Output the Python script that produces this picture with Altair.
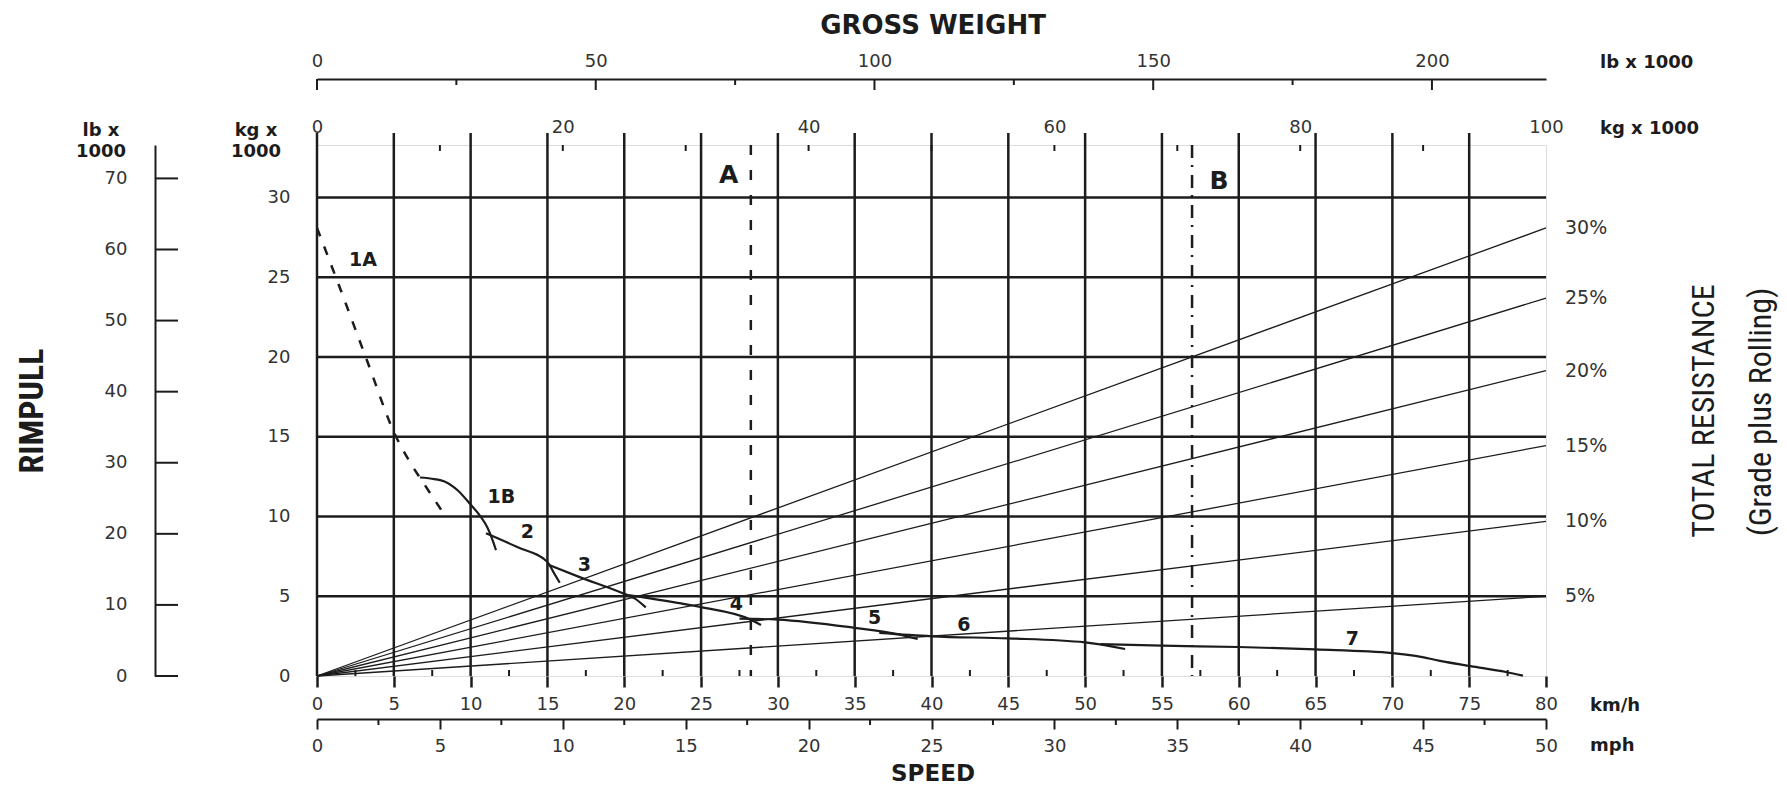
import altair as alt
import pandas as pd

W, H = 1229, 531
INK = "#1c1c1c"
LBL = "#333333"
FONT = "DejaVu Sans"
NARROW = "Liberation Sans Narrow, Roboto Condensed, Liberation Sans"

# ---------------- axis values ----------------
kmh_grid = [0, 5, 10, 15, 20, 25, 30, 35, 40, 45, 50, 55, 60, 65, 70, 75]
kmh_labels = [0, 5, 10, 15, 20, 25, 30, 35, 40, 45, 50, 55, 60, 65, 70, 75, 80]
kmh_minor = [2.5, 7.5, 12.5, 17.5, 22.5, 27.5, 32.5, 37.5, 42.5, 47.5, 52.5, 57.5, 62.5, 67.5, 72.5, 77.5]
mph_major = [0, 5, 10, 15, 20, 25, 30, 35, 40, 45, 50]
mph_minor = [2.5, 7.5, 12.5, 17.5, 22.5, 27.5, 32.5, 37.5, 42.5, 47.5]
kg_top_labels = [0, 20, 40, 60, 80, 100]
kg_top_ticks = [10, 20, 30, 40, 50, 60, 70, 80, 90]
lb_top_major = [0, 50, 100, 150, 200]
lb_top_minor = [25, 75, 125, 175]
rimpull_kg_labels = [0, 5, 10, 15, 20, 25, 30]
rimpull_lb_labels = [0, 10, 20, 30, 40, 50, 60, 70]
hgrid = [5, 10, 15, 20, 25, 30]

# ---------------- total resistance lines ----------------
pct_labels = ["30%", "25%", "20%", "15%", "10%", "5%"]
pct_end = [28.1, 23.7, 19.15, 14.45, 9.7, 5.0]
gw_max = 100

# ---------------- A / B gross weights ----------------
ab_labels = ["A", "B"]
ab_gw = [35.3, 71.2]
ab_label_gw = [33.5, 73.4]
ab_label_rp = [31.45, 31.07]

# ---------------- rimpull curves (km/h, kg x 1000) ----------------
g1A_kmh = [0.0, 1.35, 3.25, 5.1, 6.0, 7.0, 8.1]
g1A_kg = [28.1, 24.7, 19.8, 15.1, 13.5, 12.0, 10.4]
g1B_kmh = [6.7, 7.65, 8.3, 9.15, 10.0, 10.65, 11.1, 11.3, 11.65]
g1B_kg = [12.45, 12.35, 12.2, 11.65, 10.75, 10.0, 9.3, 8.85, 7.9]
g2_kmh = [11.0, 13.0, 15.0, 15.4, 15.8]
g2_kg = [8.95, 8.1, 7.15, 6.5, 5.85]
g3_kmh = [15.0, 17.1, 20.0, 20.7, 21.4]
g3_kg = [7.0, 6.2, 5.15, 4.85, 4.3]
g4_kmh = [20.0, 23.7, 25.0, 28.2, 28.9]
g4_kg = [5.1, 4.55, 4.32, 3.55, 3.2]
g5_kmh = [27.5, 30.0, 35.0, 37.7, 39.1]
g5_kg = [3.6, 3.54, 3.02, 2.64, 2.32]
g6_kmh = [36.6, 40.0, 45.0, 50.0, 52.6]
g6_kg = [2.7, 2.49, 2.36, 2.11, 1.69]
g7_kmh = [51.0, 55.0, 60.0, 65.0, 70.0, 71.6, 73.1, 75.1, 77.4, 78.5]
g7_kg = [2.0, 1.9, 1.82, 1.67, 1.44, 1.25, 0.95, 0.62, 0.25, 0.02]

curve_labels = ["1A", "1B", "2", "3", "4", "5", "6", "7"]
curve_label_kmh = [3.0, 12.0, 13.7, 17.4, 27.3, 36.3, 42.1, 67.4]
curve_label_kg = [26.1, 11.25, 9.0, 6.95, 4.5, 3.64, 3.2, 2.35]

# ---------------- build tables ----------------
solid = []
for name, xs, ys in [("1B", g1B_kmh, g1B_kg), ("2", g2_kmh, g2_kg), ("3", g3_kmh, g3_kg),
                     ("4", g4_kmh, g4_kg), ("5", g5_kmh, g5_kg), ("6", g6_kmh, g6_kg),
                     ("7", g7_kmh, g7_kg)]:
    for i, (a, b) in enumerate(zip(xs, ys)):
        solid.append({"gear": name, "i": i, "kmh": a, "kg": b})
df_solid = pd.DataFrame(solid)
df_1A = pd.DataFrame({"i": range(len(g1A_kmh)), "kmh": g1A_kmh, "kg": g1A_kg})

res_rows = []
for p, e in zip(pct_labels, pct_end):
    res_rows.append({"pct": p, "gw": 0, "rp": 0})
    res_rows.append({"pct": p, "gw": gw_max, "rp": e})
df_res = pd.DataFrame(res_rows)
df_pct = pd.DataFrame({"pct": pct_labels, "gw": [gw_max] * len(pct_labels), "rp": pct_end})


def sc(domain):
    return alt.Scale(domain=domain, nice=False, zero=False)


XK = sc([0, 80])
XG = sc([0, 100])
XL = sc([0, 220.46])
XM = sc([0, 50])
YK = sc([0, 33.3])
YL = sc([0, 74.7])

lab = dict(labelFont=FONT, labelFontSize=18, labelColor=LBL, labelFlush=False,
           labelOverlap=False, grid=False, title=None, format="d")

# vertical grid (extends above the frame)
vgrid = alt.Chart(pd.DataFrame({"kmh": kmh_grid})).mark_rule(color=INK, strokeWidth=2.5).encode(
    x=alt.X("kmh:Q", scale=XK, axis=alt.Axis(orient="bottom", values=kmh_labels, tickSize=11,
                                             tickWidth=2.5, tickColor=INK, domain=False,
                                             labelPadding=8, **lab)),
    y=alt.value(-12), y2=alt.value(H))

kmh_minor_l = alt.Chart(pd.DataFrame({"kmh": kmh_minor})).mark_rule(color=INK, strokeWidth=2).encode(
    x=alt.X("kmh:Q", scale=XK, axis=None), y=alt.value(H - 6), y2=alt.value(H))

# horizontal grid + left kg axis
hg = alt.Chart(pd.DataFrame({"kg": hgrid})).mark_rule(color=INK, strokeWidth=2.5).encode(
    y=alt.Y("kg:Q", scale=YK, axis=alt.Axis(orient="left", values=rimpull_kg_labels, ticks=False,
                                            tickSize=0, domain=False, labelPadding=27, **lab)),
    x=alt.value(0), x2=alt.value(W))

# total resistance lines + top kg axis
res = alt.Chart(df_res).mark_line(color=INK, strokeWidth=1.3).encode(
    x=alt.X("gw:Q", scale=XG, axis=alt.Axis(orient="top", values=kg_top_labels, ticks=False,
                                            tickSize=0, domain=False, labelPadding=9, **lab)),
    y=alt.Y("rp:Q", scale=YK, axis=None),
    detail="pct:N", order="gw:Q")

pct_text = alt.Chart(df_pct).mark_text(align="left", baseline="middle", dx=19, font=FONT,
                                       fontSize=19, color=LBL).encode(
    x=alt.X("gw:Q", scale=XG, axis=None), y=alt.Y("rp:Q", scale=YK, axis=None), text="pct:N")

kg_ticks = alt.Chart(pd.DataFrame({"gw": kg_top_ticks})).mark_rule(color=INK, strokeWidth=2).encode(
    x=alt.X("gw:Q", scale=XG, axis=None), y=alt.value(0), y2=alt.value(6))

# top lb axis
lb_major = alt.Chart(pd.DataFrame({"lb": lb_top_major})).mark_rule(color=INK, strokeWidth=2).encode(
    x=alt.X("lb:Q", scale=XL, axis=alt.Axis(orient="top", offset=66, values=lb_top_major,
                                            ticks=False, tickSize=0, domain=True, domainColor=INK,
                                            domainWidth=2, labelPadding=9, **lab)),
    y=alt.value(-66), y2=alt.value(-55))
lb_minor = alt.Chart(pd.DataFrame({"lb": lb_top_minor})).mark_rule(color=INK, strokeWidth=2).encode(
    x=alt.X("lb:Q", scale=XL, axis=None), y=alt.value(-66), y2=alt.value(-60))

# bottom mph axis
mph = alt.Chart(pd.DataFrame({"mph": mph_minor})).mark_rule(color=INK, strokeWidth=2).encode(
    x=alt.X("mph:Q", scale=XM, axis=alt.Axis(orient="bottom", offset=43, values=mph_major,
                                             tickSize=10, tickWidth=2, tickColor=INK, domain=True,
                                             domainColor=INK, domainWidth=2, labelPadding=8, **lab)),
    y=alt.value(H + 43), y2=alt.value(H + 49))

# left lb rimpull axis
lbl = alt.Chart(pd.DataFrame({"lb": rimpull_lb_labels})).mark_rule(color=INK, strokeWidth=2).encode(
    y=alt.Y("lb:Q", scale=YL, axis=alt.Axis(orient="left", offset=162, values=rimpull_lb_labels,
                                            ticks=False, tickSize=0, domain=True, domainColor=INK,
                                            domainWidth=2, labelPadding=28, **lab)),
    x=alt.value(-162), x2=alt.value(-139))

# A and B gross weight lines
lineA = alt.Chart(pd.DataFrame({"gw": [ab_gw[0]]})).mark_rule(color=INK, strokeWidth=2.5,
                                                              strokeDash=[10, 15]).encode(
    x=alt.X("gw:Q", scale=XG, axis=None), y=alt.value(0), y2=alt.value(H))
lineB = alt.Chart(pd.DataFrame({"gw": [ab_gw[1]]})).mark_rule(color=INK, strokeWidth=2.5,
                                                              strokeDash=[13, 7, 2, 8]).encode(
    x=alt.X("gw:Q", scale=XG, axis=None), y=alt.value(0), y2=alt.value(H))
ab_text = alt.Chart(pd.DataFrame({"t": ab_labels, "gw": ab_label_gw, "rp": ab_label_rp})).mark_text(
    font=FONT, fontWeight="bold", fontSize=25, color=INK, baseline="middle").encode(
    x=alt.X("gw:Q", scale=XG, axis=None), y=alt.Y("rp:Q", scale=YK, axis=None), text="t:N")

# rimpull curves
curves = alt.Chart(df_solid).mark_line(color=INK, strokeWidth=2.2, interpolate="monotone").encode(
    x=alt.X("kmh:Q", scale=XK, axis=None), y=alt.Y("kg:Q", scale=YK, axis=None),
    detail="gear:N", order="i:Q")
curve1A = alt.Chart(df_1A).mark_line(color=INK, strokeWidth=2.5, strokeDash=[9, 11],
                                     interpolate="monotone").encode(
    x=alt.X("kmh:Q", scale=XK, axis=None), y=alt.Y("kg:Q", scale=YK, axis=None), order="i:Q")
curve_text = alt.Chart(pd.DataFrame({"t": curve_labels, "kmh": curve_label_kmh,
                                     "kg": curve_label_kg})).mark_text(
    font=FONT, fontWeight="bold", fontSize=19, color=INK, baseline="middle").encode(
    x=alt.X("kmh:Q", scale=XK, axis=None), y=alt.Y("kg:Q", scale=YK, axis=None), text="t:N")


def note(text, x, y, size, weight="normal", align="center", angle=0, font=FONT, baseline="middle",
         line_height=None):
    kw = dict(font=font, fontSize=size, fontWeight=weight, align=align, baseline=baseline,
              color=INK, angle=angle)
    if line_height:
        kw.update(lineBreak="\n", lineHeight=line_height)
    return alt.Chart(pd.DataFrame({"t": [text]})).mark_text(**kw).encode(
        x=alt.value(x), y=alt.value(y), text="t:N")


notes = [
    note("GROSS WEIGHT", 616, -119, 26, "bold"),
    note("lb x 1000", 1283, -82, 18, "bold", align="left"),
    note("kg x 1000", 1283, -16, 18, "bold", align="left"),
    note("lb x\n1000", -216, -23, 18, "bold", baseline="top", line_height=21),
    note("kg x\n1000", -61, -23, 18, "bold", baseline="top", line_height=21),
    note("km/h", 1273, 561, 18, "bold", align="left"),
    note("mph", 1273, 601, 18, "bold", align="left"),
    note("SPEED", 616, 629, 23, "bold"),
    note("RIMPULL", -284, 266, 34, "bold", angle=270, font=NARROW),
    note("TOTAL RESISTANCE", 1387, 266, 32, "normal", angle=270, font=NARROW),
    note("(Grade plus Rolling)", 1444, 267, 32, "normal", angle=270, font=NARROW),
]

chart = alt.layer(
    vgrid, kmh_minor_l, hg, res, pct_text, kg_ticks, lb_major, lb_minor, mph, lbl,
    lineA, lineB, ab_text, curves, curve1A, curve_text, *notes
).resolve_scale(x="independent", y="independent").properties(
    width=W, height=H,
    autosize=alt.AutoSizeParams(type="none"),
    padding={"left": 309, "top": 137, "right": 233, "bottom": 111},
).configure_view(stroke=INK, strokeWidth=2.5).configure(background="white")

chart.save("out.html", embed_options={"renderer": "svg", "actions": False})
